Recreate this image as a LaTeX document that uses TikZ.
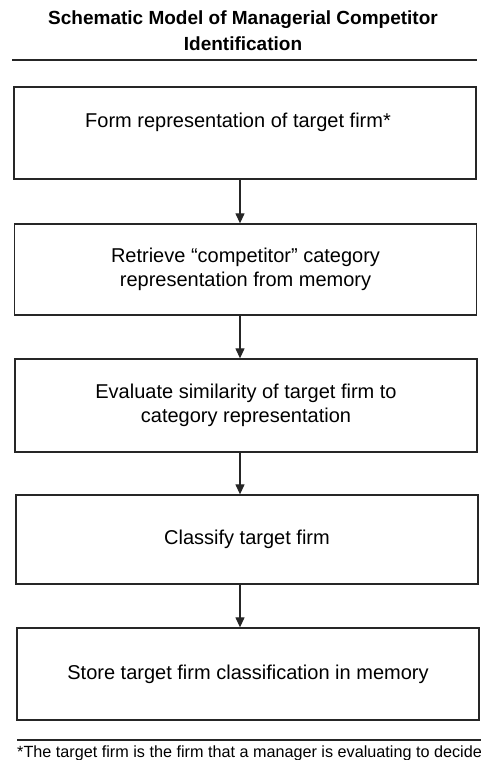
\documentclass[tikz,border=0pt]{standalone}
\usepackage{fontspec}
\setmainfont{Liberation Sans}
\usetikzlibrary{arrows.meta}
\begin{document}
\begin{tikzpicture}[x=1pt,y=-1pt,
  txt/.style={font=\fontsize{20}{24}\selectfont,align=center},
  stepbox/.style={draw=black!85,line width=1.3pt,txt,inner sep=0pt},
  flow/.style={draw=black!85,line width=1.2pt,-{Triangle[length=10pt,width=9pt]}},
  rule/.style={draw=black!85,line width=1.4pt}]
\useasboundingbox (0,0) rectangle (481,760);
\node[font=\bfseries\fontsize{19}{26}\selectfont,align=center] (title) at (243,31) {Schematic Model of Managerial Competitor\\Identification};
\coordinate (r1a) at (12,60); \coordinate (r1b) at (477,60);
\draw[rule] (r1a) -- (r1b);
\node[stepbox,minimum width=462pt,minimum height=92pt] (b1) at (245,133) {};
\node[txt] (t1) at (238,122) {Form representation of target firm*};
\node[stepbox,minimum width=462pt,minimum height=91pt] (b2) at (245.5,269.5) {Retrieve “competitor” category\\representation from memory};
\node[stepbox,minimum width=462pt,minimum height=93pt] (b3) at (246,405.5) {Evaluate similarity of target firm to\\category representation};
\node[stepbox,minimum width=462pt,minimum height=89pt] (b4) at (247,539.5) {Classify target firm};
\node[stepbox,minimum width=462pt,minimum height=92pt] (b5) at (248,674) {Store target firm classification in memory};
\draw[flow] (b1.south -| 240,0) -- (b2.north -| 240,0);
\draw[flow] (b2.south -| 240,0) -- (b3.north -| 240,0);
\draw[flow] (b3.south -| 240,0) -- (b4.north -| 240,0);
\draw[flow] (b4.south -| 240,0) -- (b5.north -| 240,0);
\coordinate (r2a) at (17,740); \coordinate (r2b) at (481,740);
\draw[rule] (r2a) -- (r2b);
\node[anchor=base west,font=\fontsize{16.2}{17}\selectfont,inner sep=0pt] (foot) at (17,757) {*The target firm is the firm that a manager is evaluating to decide};
\end{tikzpicture}
\end{document}
